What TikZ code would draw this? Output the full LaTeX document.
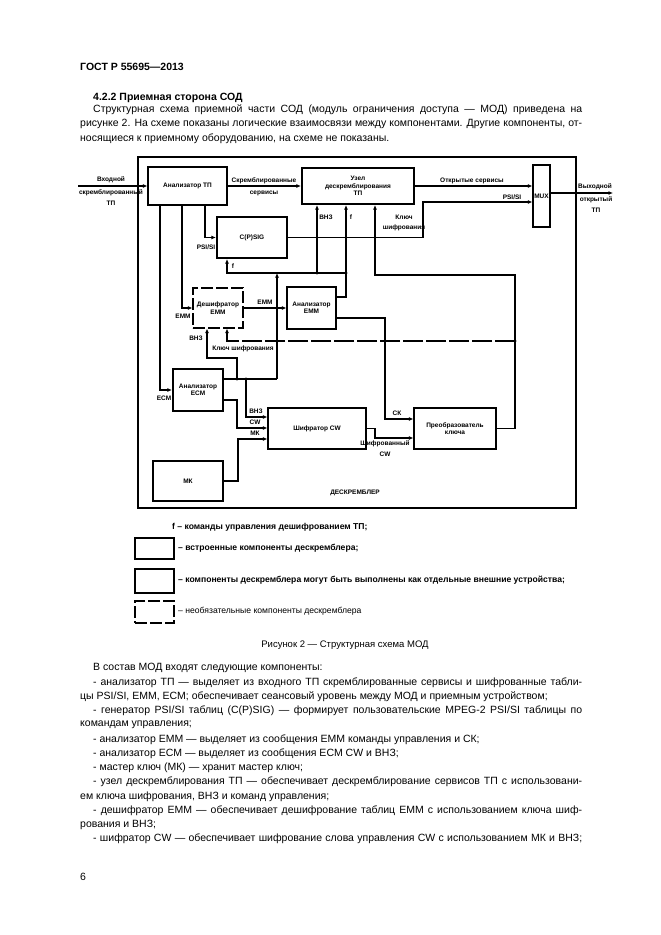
\documentclass[tikz,border=0pt]{standalone}
\usepackage{fontspec}
\setmainfont{Liberation Sans}
\usetikzlibrary{arrows.meta}
\newcommand\dgf{\fontsize{6.5}{7.5}\selectfont\bfseries}
\newcommand\bodyf{\fontsize{10.5}{12}\selectfont}
\newcommand\legf{\fontsize{8.6}{9.6}\selectfont}
\begin{document}
\begin{tikzpicture}[x=1pt,y=-1pt,
  blk/.style={draw, line width=1.2pt, inner sep=0pt, font=\dgf, align=center},
  blkt/.style={blk, line width=2.2pt},
  blkd/.style={blk, dash pattern=on 12pt off 3pt},
  con/.style={line width=1.8pt},
  arr/.style={con, -{Latex[length=4.5pt,width=4pt]}},
  lbl/.style={font=\dgf, inner sep=0pt, align=center},
  txt/.style={font=\bodyf, inner sep=0pt, anchor=west},
  legt/.style={font=\legf, inner sep=0pt, anchor=west},
  jn/.style={fill, circle, inner sep=0pt, minimum size=3.2pt}
]
\useasboundingbox (0,0) rectangle (661,935);
\fill[white] (0,0) rectangle (661,935);

% ---------- page text ----------
\node[txt] (hd) at (80,67) {\bfseries ГОСТ Р 55695—2013};
\node[txt] (sec) at (93,98) {\bfseries 4.2.2 Приемная сторона СОД};
\node[txt] (t1) at (93,110) {\makebox[489pt][s]{Структурная схема приемной части СОД (модуль ограничения доступа — МОД) приведена на}};
\node[txt] (t2) at (80,124) {\makebox[502pt][s]{рисунке 2. На схеме показаны логические взаимосвязи между компонентами. Другие компоненты, от-}};
\node[txt] (t3) at (80,139) {носящиеся к приемному оборудованию, на схеме не показаны.};

% ---------- blocks ----------
\node[draw, line width=1.5pt, minimum width=438pt, minimum height=351pt, inner sep=0pt] (outer) at (357,332.5) {};
\node[blk, minimum width=79pt, minimum height=38pt] (atp) at (187.5,186) {Анализатор ТП};
\node[blkt, minimum width=112pt, minimum height=36pt] (uzel) at (358,186) {Узел\\дескремблирования\\ТП};
\node[blk, minimum width=17pt, minimum height=62pt] (mux) at (541.5,196) {MUX};
\node[blkt, minimum width=70pt, minimum height=41pt] (csig) at (252,237.5) {C(P)SIG};
\node[blkd, minimum width=50pt, minimum height=40pt] (desh) at (218,308) {Дешифратор\\EMM};
\node[blk, minimum width=49pt, minimum height=42pt] (aemm) at (311.5,308) {Анализатор\\EMM};
\node[blkt, minimum width=50pt, minimum height=42pt] (aecm) at (198,390) {Анализатор\\ECM};
\node[blkt, minimum width=70pt, minimum height=40pt] (mk) at (188,481) {МК};
\node[blk, minimum width=98pt, minimum height=41pt] (shcw) at (317,428.5) {Шифратор CW};
\node[blk, minimum width=82pt, minimum height=41pt] (preob) at (455,428.5) {Преобразователь\\ключа};

% ---------- coordinates ----------
\coordinate (in) at (78,186);
\coordinate (out) at (613,193);
\coordinate (ps) at (423,202);
\coordinate (xa) at (160,0);
\coordinate (xb) at (182,0);
\coordinate (xc) at (205,0);
\coordinate (fa) at (346,297);
\coordinate (fc) at (227,273);
\coordinate (vz) at (277,379);
\coordinate (vu) at (317,273);
\coordinate (k1) at (515,275);
\coordinate (k2) at (375,275);
\coordinate (k3) at (515,341);
\coordinate (k4) at (227,341);
\coordinate (c1) at (385,318);
\coordinate (c2) at (385,419);
\coordinate (s1) at (375,438);
\coordinate (e237) at (237,379);
\coordinate (e246) at (246,379);
\coordinate (d1) at (207,358);
\coordinate (w1) at (246,417);
\coordinate (w2) at (237,400);
\coordinate (w3) at (237,428);
\coordinate (w4) at (238,439);

% ---------- connectors ----------
\draw[arr] (in) -- (atp.west);
\draw[arr] (atp.east) -- (uzel.west);
\draw[arr] (uzel.east) -- (uzel.east -| mux.west);
\draw[arr] (csig.east) -| (ps) -- (ps -| mux.west);
\draw[arr] (mux.east |- out) -- (out);
\draw[arr] (atp.south -| xa) |- (aecm.west);
\draw[arr] (atp.south -| xb) |- (desh.west);
\draw[arr] (atp.south -| xc) |- (csig.west);
\draw[arr] (desh.east) -- (aemm.west);
% f commands
\draw[arr] (aemm.east |- fa) -- (fa) -- (fa |- uzel.south);
\draw[arr] (fa |- fc) -- (fc) -- (fc |- csig.south);
% VNZ
\draw[con] (aecm.east |- vz) -- (vz);
\draw[arr] (vz) -- (vz |- fc);
\draw[arr] (vu) -- (vu |- uzel.south);
\draw[arr] (e237) |- (d1) -- (d1 |- desh.south);
\draw[arr] (e246) -- (w1) -- (w1 -| shcw.west);
% key
\draw[arr] (preob.east) -| (k1) -- (k2) -- (k2 |- uzel.south);
\draw[arr, dash pattern=on 20pt off 3pt] (k3) -- (k4) -- (k4 |- desh.south);
% CK
\draw[arr] (aemm.east |- c1) -- (c1) -- (c2) -- (c2 -| preob.west);
% CW
\draw[arr] (aecm.east |- w2) -- (w2) -- (w3) -- (w3 -| shcw.west);
\draw[arr] (mk.east) -| (w4) -- (w4 -| shcw.west);
\draw[arr] (shcw.east) -| (s1) -- (s1 -| preob.west);
% junctions
\node[jn] (j1) at (fa |- fc) {};
\node[jn] (j2) at (vu) {};
\node[jn] (j3) at (e237) {};
\node[jn] (j4) at (e246) {};
\node[jn] (j5) at (k3) {};

% ---------- labels ----------
\node[lbl] (l1) at (111,180) {Входной};
\node[lbl] (l2) at (111,193) {скремблированный};
\node[lbl] (l3) at (111,203) {ТП};
\node[lbl] (l4) at (264,181) {Скремблированные};
\node[lbl] (l5) at (264,193) {сервисы};
\node[lbl] (l6) at (472,181) {Открытые сервисы};
\node[lbl] (l7) at (512,197) {PSI/SI};
\node[lbl] (l8) at (595,187) {Выходной};
\node[lbl] (l9) at (596,200) {открытый};
\node[lbl] (l10) at (596,210) {ТП};
\node[lbl] (l11) at (326,217) {ВНЗ};
\node[lbl] (l12) at (351,217) {f};
\node[lbl] (l13) at (404,217) {Ключ};
\node[lbl] (l14) at (404,228) {шифрования};
\node[lbl] (l15) at (206,247) {PSI/SI};
\node[lbl] (l16) at (233,266) {f};
\node[lbl] (l17) at (265,302) {EMM};
\node[lbl] (l18) at (183,316) {EMM};
\node[lbl] (l19) at (196,338) {ВНЗ};
\node[lbl] (l20) at (243,349) {Ключ шифрования};
\node[lbl] (l21) at (164,398) {ECM};
\node[lbl] (l22) at (256,411) {ВНЗ};
\node[lbl] (l23) at (255,422) {CW};
\node[lbl] (l24) at (255,433) {МК};
\node[lbl] (l25) at (397,413) {СК};
\node[lbl] (l26) at (385,444) {Шифрованный};
\node[lbl] (l27) at (385,454) {CW};
\node[lbl] (l28) at (355,493) {ДЕСКРЕМБЛЕР};

% ---------- legend ----------
\node[legt] (g0) at (172,527) {\bfseries f – команды управления дешифрованием ТП;};
\node[draw, line width=1.2pt, minimum width=39pt, minimum height=21pt, inner sep=0pt] (lg1) at (154.5,548.5) {};
\node[draw, line width=2.2pt, minimum width=39pt, minimum height=24pt, inner sep=0pt] (lg2) at (154.5,581) {};
\node[draw, line width=1.5pt, dash pattern=on 12pt off 3pt, minimum width=39pt, minimum height=22pt, inner sep=0pt] (lg3) at (154.5,612) {};
\node[legt] (g1) at (178,548) {\bfseries – встроенные компоненты дескремблера;};
\node[legt] (g2) at (178,580) {\bfseries – компоненты дескремблера могут быть выполнены как отдельные внешние устройства;};
\node[legt] (g3) at (178,611) {– необязательные компоненты дескремблера};

\node[font=\fontsize{9.5}{11}\selectfont, inner sep=0pt] (cap) at (345,645) {Рисунок 2 — Структурная схема МОД};

% ---------- text below ----------
\node[txt] (b1) at (93,668) {В состав МОД входят следующие компоненты:};
\node[txt] (b2) at (93,683) {\makebox[489pt][s]{- анализатор ТП — выделяет из входного ТП скремблированные сервисы  и шифрованные табли-}};
\node[txt] (b3) at (80,697) {цы PSI/SI, EMM, ECM; обеспечивает сеансовый уровень между МОД и приемным устройством;};
\node[txt] (b4) at (93,711) {\makebox[489pt][s]{- генератор PSI/SI таблиц (C(P)SIG) — формирует пользовательские MPEG-2 PSI/SI таблицы по}};
\node[txt] (b5) at (80,725) {командам управления;};
\node[txt] (b6) at (93,740) {- анализатор EMM — выделяет из сообщения EMM команды управления и СК;};
\node[txt] (b7) at (93,754) {- анализатор ECM — выделяет из сообщения ECM CW и ВНЗ;};
\node[txt] (b8) at (93,768) {- мастер ключ (МК) — хранит мастер ключ;};
\node[txt] (b9) at (93,782) {\makebox[489pt][s]{- узел дескремблирования ТП — обеспечивает дескремблирование сервисов ТП с использовани-}};
\node[txt] (b10) at (80,797) {ем ключа шифрования, ВНЗ и команд управления;};
\node[txt] (b11) at (93,811) {\makebox[489pt][s]{- дешифратор EMM — обеспечивает дешифрование таблиц EMM с использованием ключа шиф-}};
\node[txt] (b12) at (80,825) {рования и ВНЗ;};
\node[txt] (b13) at (93,839) {\makebox[489pt][s]{- шифратор CW — обеспечивает шифрование слова управления CW с использованием МК и ВНЗ;}};
\node[txt] (pg) at (80,877) {6};
\end{tikzpicture}
\end{document}
